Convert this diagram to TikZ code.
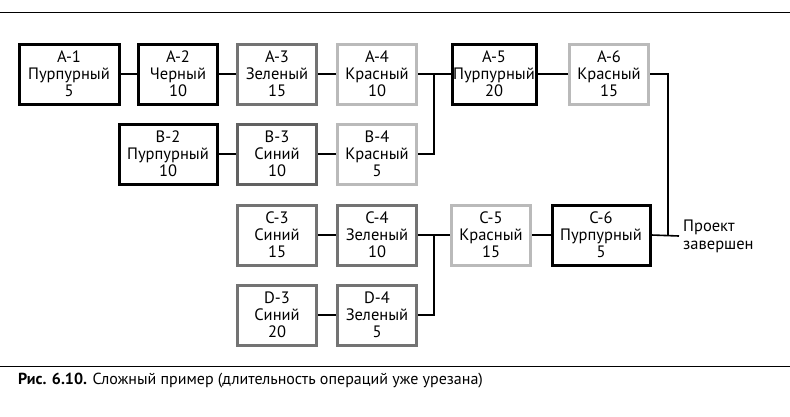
\documentclass[tikz,border=0pt]{standalone}
\usepackage{fontspec}
\setmainfont{PT Sans}
\begin{document}
\begin{tikzpicture}[x=1pt,y=-1pt,
 box/.style={draw,line width=3pt,minimum height=60pt,inner sep=0pt,align=center,font=\fontsize{16.5}{17}\selectfont},
 pur/.style={box,draw=black},
 gr/.style={box,draw=black!55},
 bl/.style={box,draw=black!62},
 rd/.style={box,draw=black!27},
 ln/.style={line width=1.6pt}]
\useasboundingbox (0,0) rectangle (790,416);
\draw[line width=1pt] (0,12) -- (790,12);
\draw[line width=1pt] (0,366) -- (790,366);
\node[pur,minimum width=100pt] (a1) at (69,74) {A-1\\Пурпурный\\5};
\node[pur,minimum width=79pt] (a2) at (178,74) {A-2\\Черный\\10};
\node[gr,minimum width=79pt] (a3) at (277,74) {A-3\\Зеленый\\15};
\node[rd,minimum width=79pt] (a4) at (377,74) {A-4\\Красный\\10};
\node[pur,minimum width=84pt] (a5) at (494,74) {A-5\\Пурпурный\\20};
\node[rd,minimum width=79pt] (a6) at (609,74) {A-6\\Красный\\15};
\node[pur,minimum width=98pt] (b2) at (168,154) {B-2\\Пурпурный\\10};
\node[bl,minimum width=79pt] (b3) at (277,154) {B-3\\Синий\\10};
\node[rd,minimum width=79pt] (b4) at (377,154) {B-4\\Красный\\5};
\node[gr,minimum width=79pt] (c3) at (277,235) {C-3\\Синий\\15};
\node[gr,minimum width=79pt] (c4) at (377,235) {C-4\\Зеленый\\10};
\node[rd,minimum width=79pt] (c5) at (491,235) {C-5\\Красный\\15};
\node[pur,minimum width=98pt] (c6) at (601,235) {C-6\\Пурпурный\\5};
\node[gr,minimum width=79pt] (d3) at (277,315) {D-3\\Синий\\20};
\node[gr,minimum width=79pt] (d4) at (377,315) {D-4\\Зеленый\\5};
\node[anchor=west,align=left,font=\fontsize{16.5}{18}\selectfont,inner sep=0pt] (end) at (683,236) {Проект\\завершен};
\coordinate (j1) at (434,74);
\coordinate (j2) at (434,235);
\coordinate (j3) at (668,235);
\draw[ln] (a1) -- (a2); \draw[ln] (a2) -- (a3); \draw[ln] (a3) -- (a4);
\draw[ln] (b2) -- (b3); \draw[ln] (b3) -- (b4);
\draw[ln] (c3) -- (c4); \draw[ln] (d3) -- (d4);
\draw[ln] (a4.east) -- (a5.west);
\draw[ln] (b4.east) -| (j1);
\draw[ln] (a5) -- (a6);
\draw[ln] (c4.east) -- (c5.west);
\draw[ln] (d4.east) -| (j2);
\draw[ln] (c5) -- (c6);
\draw[ln] (a6.east) -| (j3);
\draw[ln] (c6.east) -- ([xshift=-4pt]end.west);
\node[anchor=west,font=\fontsize{16}{18}\selectfont,inner sep=0pt] (cap) at (18,381) {\textbf{Рис. 6.10.} Сложный пример (длительность операций уже урезана)};
\end{tikzpicture}
\end{document}
